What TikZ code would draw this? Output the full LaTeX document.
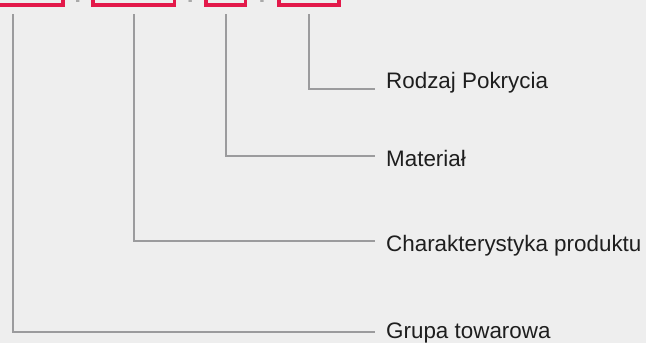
\documentclass[tikz,border=0pt]{standalone}
\usepackage{fontspec}
\setmainfont{Liberation Sans}
\usepackage{tikz}
\usetikzlibrary{calc}
\usepackage{xcolor}
\definecolor{codered}{HTML}{E3194A}
\definecolor{leadgray}{HTML}{9B9B9D}
\definecolor{textdark}{HTML}{1E1E1E}
\definecolor{digitgray}{HTML}{A9A9A9}
\definecolor{pagebg}{HTML}{EEEEEE}

\begin{document}
\begin{tikzpicture}[x=1pt, y=-1pt,
  part/.style={draw=codered, line width=3.5pt, anchor=south,
               inner xsep=0pt, inner ysep=4.5pt, text=digitgray,
               font=\fontsize{35.5}{40}\selectfont},
  sepdot/.style={anchor=base, inner sep=0pt, text=digitgray,
                 font=\fontsize{35.5}{40}\selectfont},
  tag/.style={anchor=base west, inner xsep=11pt, inner ysep=0pt,
              text=textdark, font=\fontsize{22.4}{26}\selectfont},
  lead/.style={leadgray, line width=2pt}]
  \fill[pagebg] (0,0) rectangle (646,343);
  \clip (0,0) rectangle (646,343);
  \node[part, minimum width=99pt] (grp) at (13.3,6.5) {10203};
  \node[part, minimum width=81.5pt] (prod) at (133.7,6.5) {0001};
  \node[part, minimum width=39pt] (mat) at (225.8,6.5) {01};
  \node[part, minimum width=60pt] (pokr) at (309,6.5) {001};
  \node[sepdot] (s1) at (77.8,2) {.};
  \node[sepdot] (s2) at (190.2,2) {.};
  \node[sepdot] (s3) at (262,2) {.};
  \node[tag] (rodzaj) at (375,88.3) {Rodzaj Pokrycia};
  \node[tag] (material) at (375,166) {Materiał};
  \node[tag] (charakt) at (375,251.7) {Charakterystyka produktu};
  \node[tag] (grupa) at (375,338) {Grupa towarowa};
  \draw[lead] ([yshift=-7.5pt]pokr.south) |- ([yshift=-1pt]rodzaj.base west);
  \draw[lead] ([yshift=-7.5pt]mat.south) |- ([yshift=9.7pt]material.base west);
  \draw[lead] ([yshift=-7.5pt]prod.south) |- ([yshift=10.7pt]charakt.base west);
  \draw[lead] ([yshift=-7.5pt]grp.south) |- ([yshift=6.3pt]grupa.base west);
\end{tikzpicture}
\end{document}
